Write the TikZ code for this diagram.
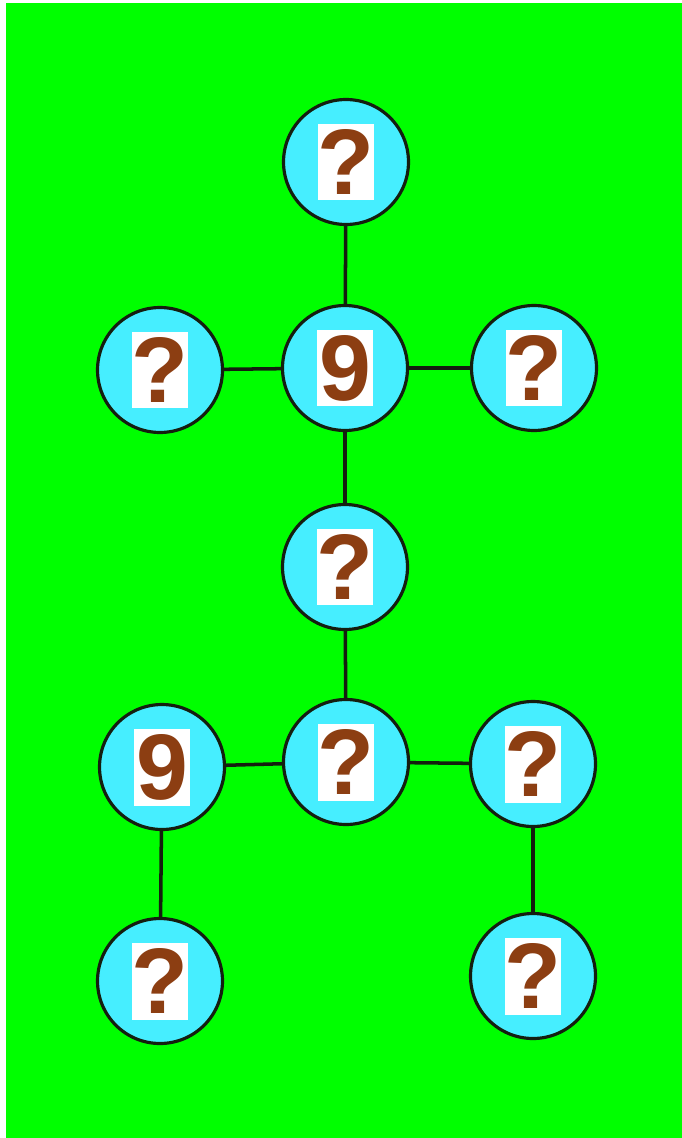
\documentclass[tikz,border=0pt]{standalone}
\usepackage{fontspec}
\usepackage{tikz}
\usetikzlibrary{positioning}
\newfontfamily\signfont{Liberation Sans}
\definecolor{lawn}{RGB}{0, 255, 0}
\definecolor{aqua}{RGB}{70, 238, 255}
\definecolor{rust}{RGB}{140, 62, 18}
\definecolor{ink}{RGB}{20, 30, 15}

\begin{document}
\begin{tikzpicture}[
    x=0.02cm, y=-0.02cm,
    ball/.style={circle, minimum size=2.5cm, inner sep=0pt, draw=ink,
        line width=1.8pt, fill=aqua},
    card/.style={rectangle, minimum width=1.13cm, minimum height=1.54cm,
        inner sep=0pt, fill=white,
        font=\signfont\bfseries\fontsize{53}{53}\selectfont, text=rust},
    link/.style={draw=ink, line width=2pt}
]

\useasboundingbox (0,0) rectangle (682,1138);
\fill[white] (0,0) rectangle (682,1138);
\fill[lawn] (6,3) rectangle (682,1138);

\node[ball] (top) at (346,162) {};
\node[ball] (leftA) at (160,370) {};
\node[ball] (hubA) at (345,368) {};
\node[ball] (rightA) at (534,368) {};
\node[ball] (mid) at (345,567) {};
\node[ball] (leftB) at (162,767) {};
\node[ball] (hubB) at (346,762) {};
\node[ball] (rightB) at (533,764) {};
\node[ball] (footL) at (160,981) {};
\node[ball] (footR) at (533,976) {};

\foreach \n in {top,leftA,rightA,mid,hubB,rightB,footL,footR} {
    \node[card] at (\n) {?};
}
\foreach \n in {hubA,leftB} {
    \node[card] at (\n) {9};
}

\draw[link] (top) -- (hubA);
\draw[link] (leftA) -- (hubA);
\draw[link] (hubA) -- (rightA);
\draw[link] (hubA) -- (mid);
\draw[link] (mid) -- (hubB);
\draw[link] (leftB) -- (hubB);
\draw[link] (hubB) -- (rightB);
\draw[link] (leftB) -- (footL);
\draw[link] (rightB) -- (footR);

\end{tikzpicture}
\end{document}
